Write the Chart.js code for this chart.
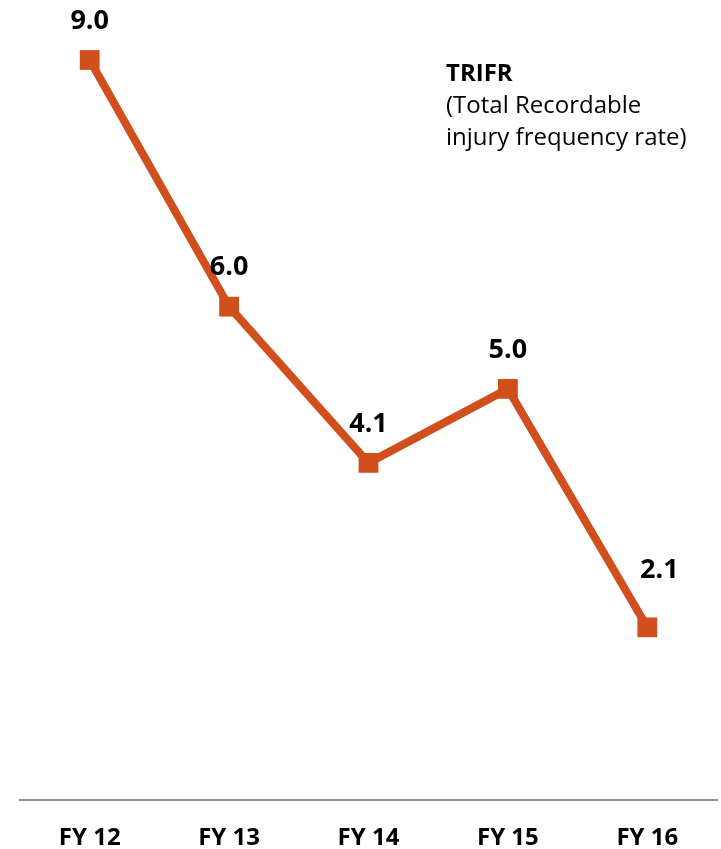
<!DOCTYPE html>
<html>
<head>
<meta charset="utf-8">
<script src="https://cdn.jsdelivr.net/npm/chart.js@4.4.1/dist/chart.umd.min.js"></script>
<style>
    html, body { margin: 0; padding: 0; background: #ffffff; }
    #wrap { position: relative; width: 721px; height: 849px; }
</style>
</head>
<body>
<div id="wrap"><canvas id="trifrChart"></canvas></div>
<script>
// TRIFR by financial year
const years = ['FY 12', 'FY 13', 'FY 14', 'FY 15', 'FY 16'];
const trifr = [9.0, 6.0, 4.1, 5.0, 2.1];
const noteLines = ['TRIFR', '(Total Recordable', 'injury frequency rate)'];

const lineColor = '#D14E1D';
const fontFamily = '"Open Sans", "Noto Sans", sans-serif';

// Writes each value above its marker
const valueLabels = {
    id: 'valueLabels',
    afterDatasetsDraw(chart) {
        const ctx = chart.ctx;
        const meta = chart.getDatasetMeta(0);
        ctx.save();
        ctx.font = 'bold 27px ' + fontFamily;
        ctx.fillStyle = '#000000';
        ctx.textAlign = 'center';
        ctx.textBaseline = 'middle';
        meta.data.forEach((pt, i) => {
            const last = i === meta.data.length - 1;
            const dx = last ? 12 : 0;
            const dy = last ? 57 : 39;
            ctx.fillText(trifr[i].toFixed(1), pt.x + dx, pt.y - dy);
        });
        ctx.restore();
    }
};

// Caption block in the upper right
const noteText = {
    id: 'noteText',
    afterDraw(chart) {
        const ctx = chart.ctx;
        ctx.save();
        ctx.fillStyle = '#000000';
        ctx.textAlign = 'left';
        ctx.textBaseline = 'alphabetic';
        noteLines.forEach((line, i) => {
            ctx.font = (i === 0 ? 'bold ' : '') + '24px ' + fontFamily;
            ctx.fillText(line, 446, 81 + i * 32);
        });
        ctx.restore();
    }
};

new Chart(document.getElementById('trifrChart'), {
    type: 'line',
    data: {
        labels: years,
        datasets: [{
            data: trifr,
            borderColor: lineColor,
            borderWidth: 8,
            pointStyle: 'rect',
            pointRadius: 14,
            pointBackgroundColor: lineColor,
            pointBorderWidth: 0,
            tension: 0,
            clip: false
        }]
    },
    options: {
        responsive: true,
        maintainAspectRatio: false,
        animation: false,
        layout: {
            autoPadding: false,
            padding: { top: 60, left: 20, right: 4, bottom: 0 }
        },
        plugins: {
            legend: { display: false },
            tooltip: { enabled: false }
        },
        scales: {
            x: {
                offset: true,
                grid: { display: false, drawTicks: false },
                border: { display: true, color: '#8f8f8f', width: 2 },
                ticks: {
                    color: '#000000',
                    padding: 24,
                    font: { family: fontFamily, size: 24, weight: 'bold' }
                },
                afterFit(scale) {
                    scale.height = 49;
                }
            },
            y: {
                display: false,
                min: 0,
                max: 9
            }
        }
    },
    plugins: [valueLabels, noteText]
});
</script>
</body>
</html>
